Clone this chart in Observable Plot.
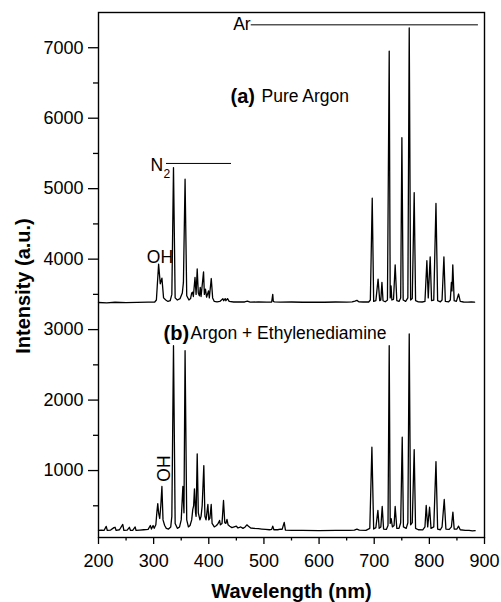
<!DOCTYPE html>
<html><head><meta charset="utf-8">
<script src="https://cdn.jsdelivr.net/npm/d3@7"></script>
<script src="https://cdn.jsdelivr.net/npm/@observablehq/plot@0.6"></script>
<style>body{margin:0;background:#fff}</style>
</head><body><div id="chart"></div>
<script>
// Spectrum (a) Pure Argon: [wavelength nm, intensity]
const spectrumA = [[200,3385],[215,3380],[230,3388],[250,3382],[270,3386],[290,3390],[302,3392],
[305,3420],[309,3930],[312,3650],[315,3730],[318,3450],[322,3420],[326,3400],[330,3410],
[333,3500],[336,5300],[339,3450],[343,3420],[348,3440],[352,3520],[354,3670],[357,5135],[360,3480],[364,3420],[367,3440],
[369,3520],[370.5,3530],[372,3470],[375,3740],[377,3500],[379,3860],[381,3520],[383,3480],[384.5,3600],[386,3470],[390.5,3820],[392,3500],[394,3575],[396,3460],[399.5,3550],[401,3450],[404.5,3725],[407,3450],[410,3400],[415,3395],[420,3400],[423,3420],[425.6,3440],[427,3410],[429.8,3440],[431,3410],[434,3440],[437,3400],[445,3392],[455,3395],[465,3392],[470,3405],[475,3390],[490,3393],[505,3390],[514,3392],[516,3500],[517,3400],[519,3395],[530,3390],[550,3392],[570,3388],[590,3390],[610,3388],[630,3392],[650,3390],[660,3395],[665,3405],[668.6,3415],[672,3395],[680,3392],[690,3392],[693,3420],[696.4,4865],[699,3400],[703,3410],[707,3717],[710,3410],[712,3420],[714,3670],[716,3410],[720,3395],[724,3420],[727.2,6952],[729,3450],[730.5,3622],[732,3420],[735,3430],[738,3920],[741,3410],[745,3400],[748,3450],[750.2,5724],[752.5,3420],[757,3400],[761,3450],[763.5,7283],[766,3420],[769,3440],[772.5,4945],[775,3410],[780,3395],[787,3392],[792,3400],[795.5,3977],[798,3450],[801.5,4033],[804,3410],[808,3420],[812,4790],[815,3410],[820,3395],[823,3420],[826.4,4033],[829,3400],[835,3395],[838,3420],[840,3670],[841,3550],[842.5,3920],[845,3410],[849,3400],[853,3505],[856,3400],[862,3392],[870,3390],[876,3393],[882,3390]];

// Spectrum (b) Argon + Ethylenediamine
const spectrumB = [[200,150],[205,155],[210,150],[214,207],[216,150],[222,155],[228,190],[230,195],[232,150],[238,160],[244,235],[246,150],[252,155],[256,195],[258,150],[262,150],[266.5,200],[268,150],[275,155],[282,160],[290,165],[294,220],[296,170],[299,220],[301,180],[304,230],[306,420],[307.5,530],[309,400],[311,320],[313,500],[315,774],[317,300],[320,220],[323,180],[327,170],[331,200],[333,350],[336,2772],[339,250],[343,180],[347,200],[350,300],[353,774],[355,400],[357,2700],[360,300],[363,200],[366,220],[369,300],[371,450],[372.5,500],[374,740],[376,400],[377,350],[379,1237],[381,400],[384,300],[386,350],[388,500],[391,1071],[393,350],[395,300],[398.4,519],[400,300],[402,320],[404.4,519],[406,250],[410,200],[414,220],[417,250],[419.6,292],[421,230],[424,250],[426.7,575],[429,260],[431,250],[433,306],[435,230],[438,210],[442,190],[446,200],[450,210],[453,185],[458,200],[462,180],[466,200],[469,230],[472,210],[476,185],[482,180],[490,175],[496,170],[503,165],[510,160],[514,165],[516,211],[518,160],[525,160],[530,170],[533,165],[536.8,264],[539,155],[550,152],[570,150],[600,148],[630,150],[655,150],[664,155],[668.6,170],[673,155],[685,152],[692,180],[695.8,1331],[699,170],[703,190],[706.7,434],[709,180],[712,200],[714.5,490],[717,170],[722,165],[725,220],[727.2,2772],[729,250],[730.8,316],[733,200],[736,220],[738,490],[741,180],[745,180],[748,260],[750.8,1473],[753,200],[758,180],[761,260],[763.5,2938],[766,230],[769,260],[772.5,1298],[775,180],[780,160],[788,158],[792,200],[794.3,505],[797,200],[800.4,480],[803,180],[808,200],[812,1128],[815,170],[820,160],[823,200],[827,590],[830,170],[836,165],[840,200],[842.7,410],[845,170],[850,170],[853,211],[856,160],[865,150],[872,150],[878,145],[883,148]];

const xTicks = [200,300,400,500,600,700,800,900];
const xMinorTicks = [250,350,450,550,650,750,850];
const yTicks = [1000,2000,3000,4000,5000,6000,7000];
const yMinorTicks = [500,1500,2500,3500,4500,5500,6500];

// Annotations (data coordinates)
const regularLabels = [
  {text:"Pure Argon", x:495.6, y:6309},
  {text:"Argon + Ethylenediamine", x:366.8, y:2943},
  {text:"N", x:294.3, y:5326}
];
const boldLabels = [
  {text:"(a)", x:439.4, y:6309},
  {text:"(b)", x:317.9, y:2943}
];
const centeredLabels = [
  {text:"OH", x:311.5, y:4021}
];
const endLabels = [{text:"Ar", x:476, y:7325}];
const subLabels = [{text:"2", x:317.9, y:5212}];
const rotatedLabels = [{text:"OH", x:319.7, y:1029}];
const bracketLines = [
  {x1:477, x2:889, y:7325},
  {x1:323.3, x2:441.2, y:5358}
];

const font = "'Liberation Sans', Arial, Helvetica, sans-serif";

const chart = Plot.plot({
  width: 501,
  height: 602,
  marginLeft: 98,
  marginRight: 17,
  marginTop: 12,
  marginBottom: 65,
  style: {fontFamily: font, fontSize: "18px", background: "white", color: "black"},
  x: {domain: [200, 900]},
  y: {domain: [50, 7500]},
  marks: [
    Plot.frame({stroke: "black", strokeWidth: 1.4}),
    Plot.axisX(xTicks, {anchor: "bottom", tickSize: 7, tickPadding: 9.5, strokeWidth: 1.3, label: null, fontSize: 18}),
    Plot.axisX(xMinorTicks, {anchor: "bottom", tickSize: 3.5, tickFormat: () => "", strokeWidth: 1.3, label: null}),
    Plot.axisY(yTicks, {anchor: "left", tickSize: 10, tickPadding: 5, tickFormat: "d", strokeWidth: 1.3, label: null, fontSize: 18}),
    Plot.axisY(yMinorTicks, {anchor: "left", tickSize: 5, tickFormat: () => "", strokeWidth: 1.3, label: null}),
    Plot.line(spectrumA, {x: d => d[0], y: d => d[1], stroke: "black", strokeWidth: 1.3}),
    Plot.line(spectrumB, {x: d => d[0], y: d => d[1], stroke: "black", strokeWidth: 1.3}),
    Plot.ruleY(bracketLines, {x1: "x1", x2: "x2", y: "y", stroke: "black", strokeWidth: 1}),
    Plot.text(regularLabels, {x: "x", y: "y", text: "text", textAnchor: "start", lineAnchor: "middle", fontSize: 17.5, fill: "black"}),
    Plot.text(boldLabels, {x: "x", y: "y", text: "text", textAnchor: "start", lineAnchor: "middle", fontSize: 20, fontWeight: "bold", fill: "black"}),
    Plot.text(centeredLabels, {x: "x", y: "y", text: "text", textAnchor: "middle", lineAnchor: "middle", fontSize: 17.5, fill: "black"}),
    Plot.text(endLabels, {x: "x", y: "y", text: "text", textAnchor: "end", lineAnchor: "middle", fontSize: 17.5, fill: "black"}),
    Plot.text(subLabels, {x: "x", y: "y", text: "text", textAnchor: "start", lineAnchor: "middle", fontSize: 12, fill: "black"}),
    Plot.text(rotatedLabels, {x: "x", y: "y", text: "text", rotate: -90, textAnchor: "middle", lineAnchor: "middle", fontSize: 17.5, fill: "black"}),
    Plot.text(["Wavelength (nm)"], {text: d => d, frameAnchor: "bottom", dy: 53.6, lineAnchor: "middle", fontSize: 20, fontWeight: "bold", fill: "black"}),
    Plot.text(["Intensity (a.u.)"], {text: d => d, frameAnchor: "left", dx: -75, dy: 11, rotate: -90, textAnchor: "middle", lineAnchor: "middle", fontSize: 20, fontWeight: "bold", fill: "black"})
  ]
});
document.getElementById("chart").appendChild(chart);
</script>
</body></html>
